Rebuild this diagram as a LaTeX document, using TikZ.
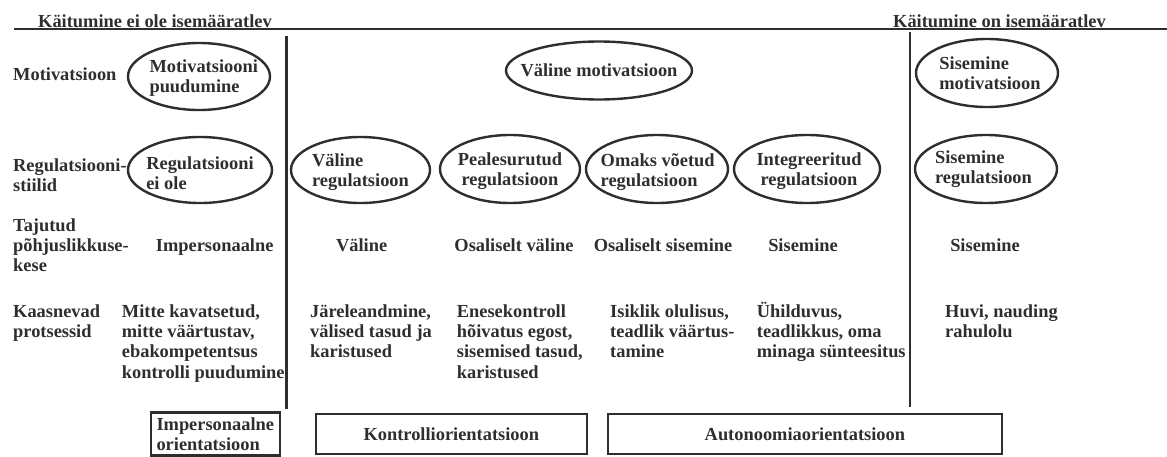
\documentclass[tikz,border=0pt]{standalone}
\usepackage{fontspec}
\setmainfont{Liberation Serif}
\usetikzlibrary{shapes.geometric}
\definecolor{ink}{HTML}{2E2E2E}
\tikzset{
  lbl/.style={font=\bfseries\fontsize{18.4}{20.4}\selectfont, text=ink, inner sep=0pt, align=left},
  oval/.style={ellipse, draw=ink, line width=2.4pt, inner sep=0pt},
  obox/.style={rectangle, draw=ink, line width=2.2pt, lbl},
  divider/.style={draw=ink, line width=2.6pt}
}
\begin{document}
\begin{tikzpicture}[x=1pt, y=-1pt]
\useasboundingbox (0,0) rectangle (1167,456);

% header rule and column dividers
\draw[divider] (14,29) -- (1167,29);
\draw[divider] (286.5,36) -- (286.5,409);
\draw[divider] (910,32) -- (910,407);

% headers
\node[lbl, anchor=base west] (hl) at (38,27) {Käitumine ei ole isemääratlev};
\node[lbl, anchor=base west] (hr) at (893,27) {Käitumine on isemääratlev};

% row labels (base anchor = baseline of the last line)
\node[lbl, anchor=base west] (l1) at (13,80) {Motivatsioon};
\node[lbl, anchor=base west] (l2) at (13,191.4) {Regulatsiooni-\\stiilid};
\node[lbl, anchor=base west] (l3) at (13,271.8) {Tajutud\\põhjuslikkuse-\\kese};
\node[lbl, anchor=base west] (l4) at (13,337.4) {Kaasnevad\\protsessid};

% motivation
\node[oval, minimum width=142, minimum height=67,
  label={[lbl, xshift=4.7pt, yshift=-1.5pt]center:{Motivatsiooni\\puudumine}}] (m1) at (199,76.5) {};
\node[oval, minimum width=186, minimum height=58,
  label={[lbl]center:{Väline motivatsioon}}] (m2) at (599,70.5) {};
\node[oval, minimum width=142, minimum height=68,
  label={[lbl, xshift=3pt]center:{Sisemine\\motivatsioon}}] (m3) at (987,73) {};

% regulation styles
\node[oval, minimum width=144, minimum height=66,
  label={[lbl, yshift=-3pt]center:{Regulatsiooni\\ei ole}}] (r1) at (200,170) {};
\node[oval, minimum width=139, minimum height=66,
  label={[lbl, yshift=-2pt]center:{Väline\\regulatsioon}}] (r2) at (360.5,170) {};
\node[oval, minimum width=140, minimum height=68,
  label={[lbl, align=center, yshift=-2pt]center:{Pealesurutud\\regulatsioon}}] (r3) at (510,169) {};
\node[oval, minimum width=142, minimum height=68,
  label={[lbl, xshift=0.7pt, yshift=-3pt]center:{Omaks võetud\\regulatsioon}}] (r4) at (657,169) {};
\node[oval, minimum width=146, minimum height=68,
  label={[lbl, align=center, xshift=2pt, yshift=-2pt]center:{Integreeritud\\regulatsioon}}] (r5) at (807,169) {};
\node[oval, minimum width=142, minimum height=68,
  label={[lbl, xshift=-2.5pt]center:{Sisemine\\regulatsioon}}] (r6) at (986,169) {};

% perceived locus of causality
\node[lbl, anchor=base] (c1) at (214.7,251) {Impersonaalne};
\node[lbl, anchor=base] (c2) at (361.7,251) {Väline};
\node[lbl, anchor=base] (c3) at (514,251) {Osaliselt väline};
\node[lbl, anchor=base] (c4) at (663,251) {Osaliselt sisemine};
\node[lbl, anchor=base] (c5) at (803,251) {Sisemine};
\node[lbl, anchor=base] (c6) at (985,251) {Sisemine};

% accompanying processes (base anchor = baseline of the last line)
\node[lbl, anchor=base west] (p1) at (121.7,378.2) {Mitte kavatsetud,\\mitte väärtustav,\\ebakompetentsus\\kontrolli puudumine};
\node[lbl, anchor=base west] (p2) at (310,357.8) {Järeleandmine,\\välised tasud ja\\karistused};
\node[lbl, anchor=base west] (p3) at (456.7,378.2) {Enesekontroll\\hõivatus egost,\\sisemised tasud,\\karistused};
\node[lbl, anchor=base west] (p4) at (610,357.8) {Isiklik olulisus,\\teadlik väärtus-\\tamine};
\node[lbl, anchor=base west] (p5) at (756.7,357.8) {Ühilduvus,\\teadlikkus, oma\\minaga sünteesitus};
\node[lbl, anchor=base west] (p6) at (945,337.4) {Huvi, nauding\\rahulolu};

% orientations
\node[obox, minimum width=129, minimum height=43] (o1) at (215.3,434) {Impersonaalne\\orientatsioon};
\node[obox, minimum width=270.7, minimum height=40] (o2) at (451.3,434) {Kontrolliorientatsioon};
\node[obox, minimum width=393.7, minimum height=40] (o3) at (804.9,434) {Autonoomiaorientatsioon};
\end{tikzpicture}
\end{document}
